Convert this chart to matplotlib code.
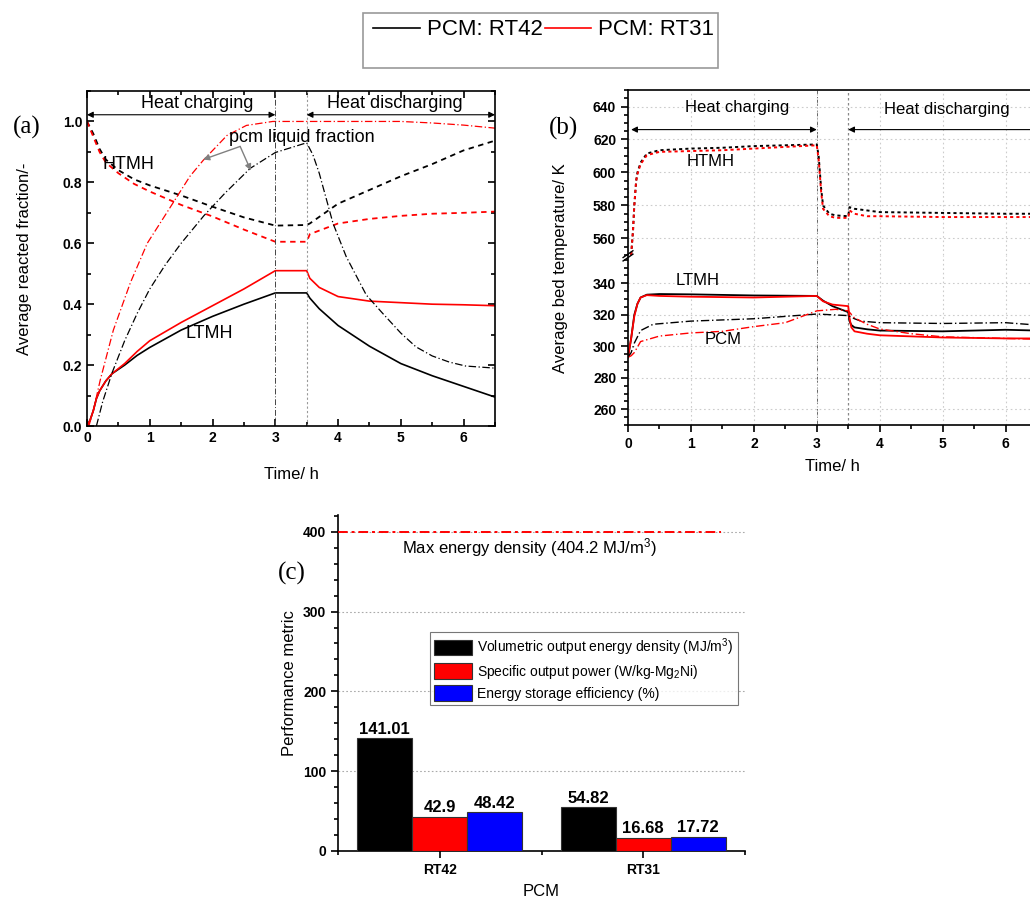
import numpy as np
import matplotlib.pyplot as plt
from matplotlib.patches import Rectangle
from matplotlib.lines import Line2D
from matplotlib.ticker import MultipleLocator

plt.rcParams['font.family'] = ['Liberation Sans', 'DejaVu Sans']
plt.rcParams['mathtext.fontset'] = 'custom'
plt.rcParams['mathtext.rm'] = 'Liberation Sans'
plt.rcParams['mathtext.it'] = 'Liberation Sans:italic'
plt.rcParams['mathtext.bf'] = 'Liberation Sans:bold'

# ---- panel (a): average reacted fraction ----
t_ltmh = [0, 0.05, 0.1, 0.15, 0.2, 0.3, 0.4, 0.6, 0.8, 1.0, 1.5, 2.0, 2.5, 3.0, 3.5,
          3.55, 3.7, 4.0, 4.5, 5.0, 5.5, 6.0, 6.5]
ltmh_rt42 = [0, 0.02, 0.05, 0.09, 0.115, 0.148, 0.172, 0.2, 0.232, 0.258, 0.315, 0.36, 0.40,
             0.437, 0.437, 0.42, 0.385, 0.33, 0.262, 0.205, 0.165, 0.13, 0.095]
ltmh_rt31 = [0, 0.02, 0.05, 0.09, 0.115, 0.148, 0.172, 0.205, 0.245, 0.28, 0.34, 0.395, 0.45,
             0.51, 0.51, 0.485, 0.455, 0.425, 0.41, 0.405, 0.40, 0.398, 0.395]

t_htmh = [0, 0.1, 0.2, 0.3, 0.5, 0.75, 1.0, 1.5, 2.0, 2.5, 3.0, 3.5, 3.55, 4.0, 4.5, 5.0,
          5.5, 6.0, 6.5]
htmh_rt42 = [1.0, 0.96, 0.91, 0.875, 0.84, 0.81, 0.79, 0.757, 0.72, 0.685, 0.658, 0.66,
             0.665, 0.73, 0.775, 0.82, 0.86, 0.905, 0.937]
htmh_rt31 = [1.0, 0.95, 0.9, 0.865, 0.83, 0.795, 0.77, 0.726, 0.688, 0.645, 0.605, 0.605,
             0.63, 0.665, 0.68, 0.69, 0.697, 0.70, 0.704]

t_lf42 = [0.15, 0.25, 0.4, 0.6, 0.8, 1.0, 1.25, 1.5, 1.86, 2.2, 2.6, 3.0, 3.5, 3.6, 3.7,
          3.92, 4.13, 4.45, 4.71, 5.0, 5.24, 5.5, 5.77, 6.03, 6.5]
lf_rt42 = [0, 0.08, 0.175, 0.28, 0.37, 0.45, 0.53, 0.6, 0.69, 0.765, 0.846, 0.898, 0.93,
           0.89, 0.83, 0.665, 0.556, 0.43, 0.37, 0.305, 0.26, 0.23, 0.21, 0.197, 0.19]
t_lf31 = [0.03, 0.1, 0.21, 0.42, 0.69, 0.96, 1.27, 1.64, 1.85, 2.23, 2.54, 2.96, 3.5, 4.0,
          5.0, 5.5, 6.0, 6.5]
lf_rt31 = [0, 0.05, 0.15, 0.315, 0.47, 0.6, 0.7, 0.82, 0.872, 0.954, 0.987, 1.0, 1.0, 1.0,
           1.0, 0.995, 0.988, 0.978]

# ---- panel (b): average bed temperature ----
t_hb = [0.05, 0.08, 0.1, 0.13, 0.15, 0.2, 0.3, 0.5, 1.0, 1.5, 2.0, 2.5, 3.0, 3.03, 3.07,
        3.1, 3.2, 3.3, 3.5, 3.52, 3.6, 3.8, 4.0, 5.0, 6.0, 6.5]
htmh_T42 = [550, 565, 580, 595, 600, 606, 611.5, 613.5, 614.5, 615, 616, 616.5, 617, 610,
            590, 580, 575, 574, 573.5, 579, 578, 577, 576, 575.5, 575, 575]
htmh_T31 = [550, 565, 580, 595, 599, 605, 610.5, 612.5, 613, 613.5, 614.5, 615.5, 616.5,
            608, 588, 578, 573.5, 572.5, 572.5, 577, 575, 573.5, 573.5, 573, 573, 573]

t_lb = [0, 0.05, 0.1, 0.15, 0.2, 0.3, 0.5, 1.0, 2.0, 3.0, 3.1, 3.25, 3.5, 3.52, 3.55, 3.6,
        3.8, 4.0, 5.0, 6.0, 6.5]
ltmh_T42 = [293, 305, 320, 327, 331, 332.8, 333.2, 333, 332.3, 332, 329, 325.5, 321.7, 316,
            313.5, 312, 310.8, 310, 309.5, 310.5, 310]
ltmh_T31 = [293, 305, 319, 327, 331, 332.5, 332, 331.5, 331, 332, 328.6, 326.5, 325.5, 318,
            312, 309.5, 308, 307, 305.6, 305, 305]

t_p42 = [0, 0.05, 0.1, 0.2, 0.4, 1.0, 2.0, 3.0, 3.5, 3.6, 3.7, 4.0, 5.0, 6.0, 6.5]
pcm_T42 = [293, 296, 302, 310, 314, 316, 317.5, 320.5, 319.5, 317.5, 316, 315, 314.5, 315,
           313.5]
t_p31 = [0, 0.05, 0.1, 0.2, 0.5, 1.0, 1.5, 2.0, 2.5, 3.0, 3.3, 3.5, 3.6, 3.8, 4.0, 4.5, 5.0,
         6.0, 6.5]
pcm_T31 = [293, 294, 296, 303, 306.5, 308.5, 309.5, 312.5, 315, 322.5, 323.5, 322.5, 318,
           314, 311, 308, 306, 305, 304.5]

# ---- panel (c): performance metrics ----
pcms = ['RT42', 'RT31']
energy_density = [141.01, 54.82]
output_power = [42.9, 16.68]
efficiency = [48.42, 17.72]
max_energy_density = 400
metric_labels = ['Volumetric output energy density (MJ/m$^{3}$)',
                 'Specific output power (W/kg-Mg$_{2}$Ni)',
                 'Energy storage efficiency (%)']

W, H = 1030, 900
fig = plt.figure(figsize=(W / 100, H / 100), dpi=100)

dash = (0, (3, 2.5))
dashdot = (0, (6, 2, 1, 2))
dot = (0, (1.6, 1.6))

def bold_ticks(ax, xt, xl, yt, yl):
    ax.set_xticks(xt, xl, fontweight='bold', fontsize=10)
    ax.set_yticks(yt, yl, fontweight='bold', fontsize=10)

# ================= (a) =================
ax = fig.add_axes([87 / W, 1 - 426 / H, 408 / W, 335 / H])
ax.plot(t_ltmh, ltmh_rt42, color='black', lw=1.2)
ax.plot(t_ltmh, ltmh_rt31, color='red', lw=1.2)
ax.plot(t_htmh, htmh_rt42, color='black', lw=1.3, ls=dash)
ax.plot(t_htmh, htmh_rt31, color='red', lw=1.3, ls=dash)
ax.plot(t_lf42, lf_rt42, color='black', lw=0.9, ls=dashdot)
ax.plot(t_lf31, lf_rt31, color='red', lw=0.9, ls=dashdot)
ax.axvline(3, color='#444444', lw=0.7, ls=dashdot)
ax.axvline(3.5, color='#999999', lw=0.8, ls=(0, (2, 2)))
ax.set_xlim(0, 6.5)
ax.set_ylim(0, 1.1)
bold_ticks(ax, range(7), [str(i) for i in range(7)],
           np.arange(0, 1.01, 0.2), ['%.1f' % v for v in np.arange(0, 1.01, 0.2)])
ax.xaxis.set_minor_locator(MultipleLocator(0.5))
ax.yaxis.set_minor_locator(MultipleLocator(0.1))
ax.tick_params(which='both', direction='in', top=True, right=True, width=1.2)
ax.tick_params(which='major', length=5)
ax.tick_params(which='minor', length=3)
for s in ax.spines.values():
    s.set_linewidth(1.2)
ax.set_xlabel('Time/ h', fontsize=12, labelpad=16)
ax.set_ylabel('Average reacted fraction/-', fontsize=12, labelpad=22)

arrow_kw = dict(arrowstyle='<|-|>', color='black', lw=0.8, mutation_scale=9,
                shrinkA=0, shrinkB=0)
ax.annotate('', xy=(0, 1.022), xytext=(3, 1.022), arrowprops=arrow_kw)
ax.annotate('', xy=(3.5, 1.022), xytext=(6.5, 1.022), arrowprops=arrow_kw)
ax.text(1.75, 1.06, 'Heat charging', fontsize=13, ha='center', va='center')
ax.text(4.91, 1.06, 'Heat discharging', fontsize=13, ha='center', va='center')
ax.text(0.66, 0.86, 'HTMH', fontsize=13, ha='center', va='center')
ax.text(1.95, 0.305, 'LTMH', fontsize=13, ha='center', va='center')
ax.text(3.42, 0.948, 'pcm liquid fraction', fontsize=13, ha='center', va='center')
pk = dict(arrowstyle='-|>', color='gray', lw=1.0, mutation_scale=9, shrinkA=0, shrinkB=0)
ax.annotate('', xy=(1.85, 0.875), xytext=(2.44, 0.918), arrowprops=pk)
ax.annotate('', xy=(2.61, 0.839), xytext=(2.44, 0.918), arrowprops=pk)
fig.text(27 / W, 1 - 127 / H, '(a)', fontsize=18, family='Liberation Serif',
         ha='center', va='center')

# ================= (b) =================
axt = fig.add_axes([628 / W, 1 - 255 / H, 409 / W, 165 / H])
axb = fig.add_axes([628 / W, 1 - 425 / H, 409 / W, 170 / H])
for a in (axt, axb):
    a.axvline(3, color='#666666', lw=0.7, ls=dashdot, zorder=1)
    a.axvline(3.5, color='#888888', lw=0.9, ls=(0, (2, 2)), zorder=1)
    a.set_xlim(0, 6.5)
    a.grid(True, color='#cccccc', ls=(0, (1.5, 2.5)), lw=0.8)
    a.xaxis.set_minor_locator(MultipleLocator(0.5))
    a.yaxis.set_minor_locator(MultipleLocator(5))
    a.tick_params(which='both', direction='out', width=1.2)
    a.tick_params(which='major', length=5)
    a.tick_params(which='minor', length=3)
    a.spines['right'].set_visible(False)
    for s in a.spines.values():
        s.set_linewidth(1.2)

axt.plot(t_hb, htmh_T42, color='black', lw=1.4, ls=dot)
axt.plot(t_hb, htmh_T31, color='red', lw=1.4, ls=dot)
axt.set_ylim(550, 650)
axt.set_yticks([560, 580, 600, 620, 640], ['560', '580', '600', '620', '640'],
               fontweight='bold', fontsize=10)
axt.set_xticks(range(7))
axt.tick_params(axis='x', which='both', labelbottom=False, bottom=False)
axt.spines['bottom'].set_visible(False)

axb.plot(t_lb, ltmh_T42, color='black', lw=1.3)
axb.plot(t_lb, ltmh_T31, color='red', lw=1.3)
axb.plot(t_p42, pcm_T42, color='black', lw=1.0, ls=dashdot)
axb.plot(t_p31, pcm_T31, color='red', lw=1.0, ls=dashdot)
axb.set_ylim(250, 358)
bold_ticks(axb, range(7), [str(i) for i in range(7)],
           [260, 280, 300, 320, 340], ['260', '280', '300', '320', '340'])
axb.spines['top'].set_visible(False)
axb.set_xlabel('Time/ h', fontsize=12, labelpad=6)

# axis break marks
for yb in (0.985, 1.005):
    axb.plot([-0.012, 0.012], [yb - 0.02, yb + 0.02], transform=axb.transAxes,
             color='black', lw=1.0, clip_on=False)

axt.annotate('', xy=(0.05, 626), xytext=(3, 626), arrowprops=arrow_kw)
axt.annotate('', xy=(3.5, 626), xytext=(6.6, 626), arrowprops=arrow_kw)
axt.text(1.73, 639.5, 'Heat charging', fontsize=12, ha='center', va='center')
axt.text(5.06, 638, 'Heat discharging', fontsize=12, ha='center', va='center')
axt.text(1.32, 606.5, 'HTMH', fontsize=12, ha='center', va='center')
axb.text(1.1, 342, 'LTMH', fontsize=12, ha='center', va='center')
axb.text(1.51, 304.5, 'PCM', fontsize=12, ha='center', va='center')
fig.text(560 / W, 1 - 268 / H, 'Average bed temperature/ K', fontsize=12,
         rotation=90, ha='center', va='center')
fig.text(563 / W, 1 - 128 / H, '(b)', fontsize=18, family='Liberation Serif',
         ha='center', va='center')

# ================= (c) =================
axc = fig.add_axes([338 / W, 1 - 851 / H, 407 / W, 336 / H])
x = np.arange(1, len(pcms) + 1)
bw = 0.27
cols = ['black', 'red', 'blue']
for i, (vals, c) in enumerate(zip([energy_density, output_power, efficiency], cols)):
    axc.bar(x + (i - 1) * bw, vals, bw, color=c, edgecolor='#333333', lw=0.8,
            label=metric_labels[i], zorder=3)
    for xi, v in zip(x + (i - 1) * bw, vals):
        axc.text(xi, v + 2, '%g' % v, ha='center', va='bottom', fontsize=12,
                 fontweight='bold')
axc.plot([0.5, 2.38], [max_energy_density, max_energy_density], color='red', lw=1.4,
         ls=(0, (5, 2, 1.5, 2)), zorder=4)
axc.text(1.44, 380, 'Max energy density (404.2 MJ/m$^{3}$)', fontsize=12,
         ha='center', va='center')
axc.set_xlim(0.5, 2.5)
axc.set_ylim(0, 421)
axc.set_xticks(x, pcms, fontweight='bold', fontsize=10)
axc.set_yticks([0, 100, 200, 300, 400], ['0', '100', '200', '300', '400'],
               fontweight='bold', fontsize=10)
axc.xaxis.set_minor_locator(MultipleLocator(0.5))
axc.yaxis.set_minor_locator(MultipleLocator(20))
axc.yaxis.grid(True, color='#aaaaaa', ls=(0, (1.5, 2)), lw=0.8, zorder=0)
axc.tick_params(which='both', direction='out', width=1.2)
axc.tick_params(which='major', length=5)
axc.tick_params(which='minor', length=3)
axc.spines['top'].set_visible(False)
axc.spines['right'].set_visible(False)
for s in axc.spines.values():
    s.set_linewidth(1.2)
axc.set_xlabel('PCM', fontsize=12, labelpad=5)
axc.set_ylabel('Performance metric', fontsize=12, labelpad=4)
leg = axc.legend(loc='upper left', bbox_to_anchor=(430 / W, 1 - 632 / H),
                 bbox_transform=fig.transFigure, fontsize=10, frameon=True,
                 fancybox=False, edgecolor='#555555', handlelength=2.7,
                 handleheight=1.3, handletextpad=0.4, labelspacing=0.35,
                 borderpad=0.3, borderaxespad=0)
leg.get_frame().set_linewidth(0.8)
fig.text(292 / W, 1 - 573 / H, '(c)', fontsize=18, family='Liberation Serif',
         ha='center', va='center')

# ---- top legend ----
fig.add_artist(Rectangle((363 / W, 1 - 68 / H), 355 / W, 55 / H, transform=fig.transFigure,
                         fill=False, edgecolor='#999999', lw=1.2))
handles = [Line2D([], [], color='black', lw=1.2), Line2D([], [], color='red', lw=1.2)]
fig.legend(handles, ['PCM: RT42', 'PCM: RT31'], loc='upper left',
           bbox_to_anchor=(360 / W, 1 - 6 / H), ncol=2, frameon=False, fontsize=16,
           handlelength=2.1, handletextpad=0.3, columnspacing=0.1, borderpad=0.1)

fig.savefig('out.png', dpi=100)
